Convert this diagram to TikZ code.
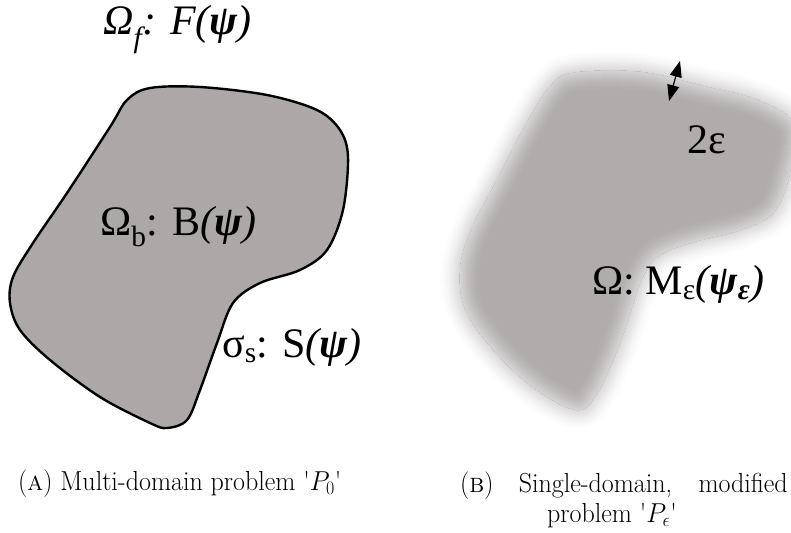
\documentclass[tikz,border=0pt]{standalone}
\usepackage{fontspec}
\usepackage{graphicx}
\usetikzlibrary{arrows.meta}
\newfontfamily\labfont{Liberation Serif}
\definecolor{sgray}{RGB}{172,168,168}
\definecolor{bgray}{RGB}{176,172,172}
\tikzset{
  lab/.style={inner sep=0pt, anchor=base west, font=\labfont\fontsize{42}{48}\selectfont},
  capt/.style={inner sep=0pt, font=\fontsize{25}{30}\selectfont},
  outline/.style={draw=black, line width=2.4pt, fill=sgray, line join=round},
}
\newcommand\capscale[1]{\scalebox{1.04}[1.1]{#1}}
\def\lshape{plot[smooth cycle, tension=0.55] coordinates {
 (150,88) (200,87) (267,95) (317,110) (340,130) (348,157) (343,210) (327,250)
 (300,270) (260,283) (233,303) (217,343) (200,390) (187,420) (167,428) (150,423)
 (100,397) (50,360) (20,330) (10,303) (13,277) (33,243) (67,193) (110,127) (127,100)}}
\def\rshape{plot[smooth cycle, tension=0.6] coordinates {
 (573,73) (640,72) (707,87) (757,100) (795,125) (790,173) (773,213) (740,230)
 (690,243) (657,257) (640,283) (627,323) (613,360) (597,393) (578,410) (540,392)
 (500,357) (467,313) (460,273) (470,233) (497,180) (527,123) (550,87)}}
\begin{document}
\begin{tikzpicture}[x=1pt,y=-1pt]
\useasboundingbox (0,0) rectangle (791,532);
% left domain
\draw[outline] \lshape;
% right blurred domain: outer halo
\foreach \d in {22,21,...,1}{
  \pgfmathsetmacro\t{\d/22}
  \pgfmathsetmacro\p{50*(1-(1.5*\t-0.5*\t*\t*\t))}
  \draw[line width=2*\d pt, line join=round, color=bgray!\p!white] \rshape;
}
\fill[bgray] \rshape;
\begin{scope}
  \clip \rshape;
  \foreach \d in {22,21,...,1}{
    \pgfmathsetmacro\t{\d/22}
    \pgfmathsetmacro\p{50*(1+(1.5*\t-0.5*\t*\t*\t))}
    \draw[line width=2*\d pt, line join=round, color=bgray!\p!white] \rshape;
  }
\end{scope}
% labels
\node[lab] (of) at (103,35) {\textit{Ω\textsubscript{f}: F(\textbf{ψ})}};
\node[lab] (ob) at (100,235) {Ω\textsubscript{b}: B\textit{(\textbf{ψ})}};
\node[lab] (ss) at (222,357) {σ\textsubscript{s}: S\textit{(\textbf{ψ})}};
\node[lab] (eps) at (687,153) {2ε};
\node[lab] (om) at (592,294) {Ω: M\textsubscript{ε}\textit{(\textbf{ψ\textsubscript{ε}})}};
% double arrow
\coordinate (a1) at (680,61);
\coordinate (a2) at (669,101);
\draw[line width=1.2pt, {Triangle[length=16pt,width=12pt]}-{Triangle[length=16pt,width=12pt]}] (a1) -- (a2);
% captions
\node[capt, anchor=base west] (capA) at (18,490) {\capscale{(\textsc{a}) Multi-domain problem \textquotesingle$P_0$\textquotesingle}};
\node[capt, anchor=base west] (capB1) at (460,492) {\capscale{\makebox[315pt][s]{(\textsc{b})\ \ Single-domain, \ modified}}};
\node[capt, anchor=base] (capB2) at (612,522) {\capscale{problem \textquotesingle$P_\epsilon$\textquotesingle}};
\end{tikzpicture}
\end{document}
